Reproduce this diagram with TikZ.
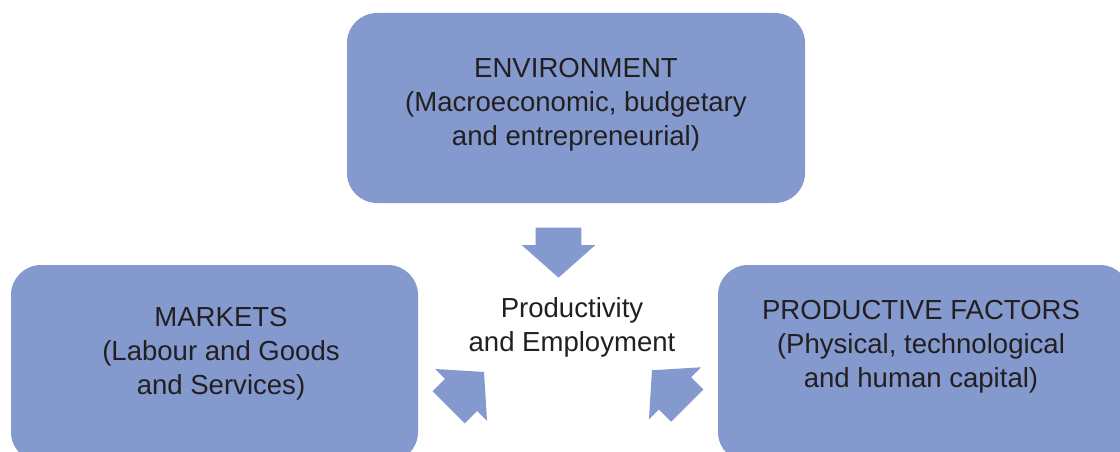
\documentclass[tikz,border=0pt]{standalone}
\usepackage{fontspec}
\setmainfont{Liberation Sans}
\usetikzlibrary{shapes.arrows}
\definecolor{boxblue}{RGB}{132,153,206}
\definecolor{textgray}{RGB}{35,31,32}

\begin{document}
\begin{tikzpicture}[
	block/.style={rectangle, rounded corners=7.5mm, fill=boxblue, draw=none},
	label/.style={align=center, text=textgray, inner sep=0pt, font=\fontsize{19.6}{24.2}\selectfont},
	fat/.style={single arrow, fill=boxblue, draw=none, inner xsep=0pt, inner ysep=5.625mm, minimum height=12.5mm, single arrow head extend=3.5mm, single arrow tip angle=97}]

	\useasboundingbox (0,0) rectangle (28,11.275);
	\clip (0,0) rectangle (28,11.275);

	%Boxes
	\node[block, minimum width=114.5mm, minimum height=47.5mm]	(env)	at (14.4,8.575) {};
	\node[block, minimum width=101.75mm, minimum height=49.25mm]	(markets)	at (5.3625,2.1875) {};
	\node[block, minimum width=103mm, minimum height=49.25mm]	(factors)	at (23.1,2.1875) {};

	%Labels
	\node[label]	(envtext)	at (14.4,8.65)	{ENVIRONMENT\\(Macroeconomic, budgetary\\and entrepreneurial)};
	\node[label]	(marketstext)	at (5.525,2.425)	{MARKETS\\(Labour and Goods\\and Services)};
	\node[label]	(factorstext)	at (23.025,2.6)	{PRODUCTIVE FACTORS\\(Physical, technological\\and human capital)};
	\node[label]	(prod)	at (14.3,3.08)	{Productivity\\and Employment};

	%Arrows
	\node[fat, rotate=-90, anchor=tip]	(down)	at (13.9625,4.325) {};
	\node[fat, rotate=45, anchor=tip]	(left)	at (12.1075,1.9825) {};
	\node[fat, rotate=135, anchor=tip]	(right)	at (16.2925,2.025) {};
\end{tikzpicture}
\end{document}
